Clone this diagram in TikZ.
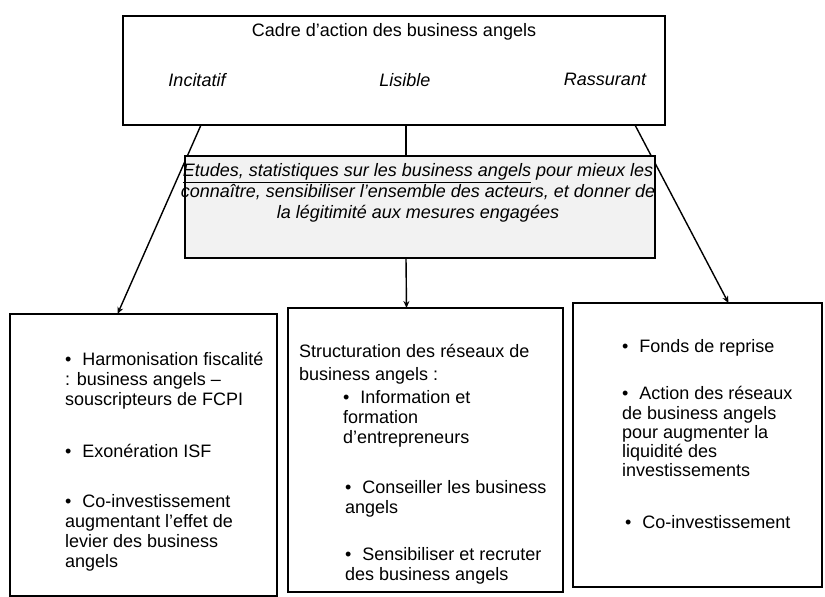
\documentclass[tikz,border=0pt]{standalone}
\usepackage{fontspec}
\setmainfont{Liberation Sans}
\usetikzlibrary{backgrounds,arrows.meta}

\newcommand{\txt}{\fontsize{18}{20}\selectfont}
\newcommand{\puce}{\textbullet\hspace{0.6em}}

\tikzset{
  boite/.style={draw, line width=1.5pt, inner sep=0pt, outer sep=0pt},
  ligne/.style={anchor=north west, inner sep=0pt, align=left, font=\txt, yshift=14pt},
  fleche/.style={-{Stealth[length=7pt, width=6pt]}, line width=1.4pt},
}

\begin{document}
\begin{tikzpicture}[x=1pt, y=-1pt]
  \useasboundingbox (0,0) rectangle (825,597);

  % les cadres
  \node[boite, minimum width=542pt, minimum height=109pt] (cadre) at (394,70.5) {};
  \node[boite, fill=black!5, minimum width=470pt, minimum height=102pt] (etudes) at (420,207) {};
  \node[boite, minimum width=267pt, minimum height=282pt] (fiscal) at (143.5,455) {};
  \node[boite, minimum width=275pt, minimum height=284pt] (reseaux) at (425.5,450) {};
  \node[boite, minimum width=249pt, minimum height=284pt] (reprise) at (697.5,445) {};

  % fleches
  \begin{scope}[on background layer]
    \draw[fleche] ([xshift=-193pt]cadre.south) -- ([xshift=-26pt]fiscal.north);
    \draw[line width=1.4pt] ([xshift=12pt]cadre.south) -- ([xshift=-14pt]etudes.north);
    \draw[fleche] ([xshift=241pt]cadre.south) -- ([xshift=31pt]reprise.north);
  \end{scope}
  \draw[fleche] ([xshift=-14pt]etudes.south) -- ([xshift=-19pt]reseaux.north);

  % textes du haut
  \node[ligne, anchor=north] (titre) at (394,36) {\strut Cadre d'action des business angels};
  \node[ligne, anchor=north, font=\txt\itshape] (incitatif) at (197,86) {\strut Incitatif};
  \node[ligne, anchor=north, font=\txt\itshape] (lisible) at (405,86) {\strut Lisible};
  \node[ligne, anchor=north, font=\txt\itshape] (rassurant) at (605,85) {\strut Rassurant};

  \node[ligne, anchor=north, align=center, font=\fontsize{18}{21}\selectfont\itshape] (etudestxt) at (418,176)
    {\strut\underline{Etudes, statistiques sur les business angels} pour mieux les\\
     connaître, sensibiliser l'ensemble des acteurs, et donner de\\
     la légitimité aux mesures engagées};

  % cadre de gauche
  \node[ligne] (harmo) at (65,365) {\strut\puce Harmonisation fiscalité\\: business angels --\\souscripteurs de FCPI};
  \node[ligne] (isf) at (65,457) {\strut\puce Exonération ISF};
  \node[ligne] (coinv) at (65,507) {\strut\puce Co-investissement\\augmentant l'effet de\\levier des business\\angels};

  % cadre du milieu
  \node[ligne] (struct) at (299,357) {\strut Structuration des réseaux de\\[3pt]business angels :};
  \node[ligne] (info) at (343,403) {\strut\puce Information et\\formation\\d'entrepreneurs};
  \node[ligne] (conseil) at (345,493) {\strut\puce Conseiller les business\\angels};
  \node[ligne] (sensib) at (345,560) {\strut\puce Sensibiliser et recruter\\des business angels};

  % cadre de droite
  \node[ligne] (fonds) at (622,352) {\strut\puce Fonds de reprise};
  \node[ligne, font=\fontsize{18}{19.3}\selectfont] (action) at (622,400)
    {\strut\puce Action des réseaux\\de business angels\\pour augmenter la\\liquidité des\\investissements};
  \node[ligne] (coinvb) at (625,528) {\strut\puce Co-investissement};
\end{tikzpicture}
\end{document}
